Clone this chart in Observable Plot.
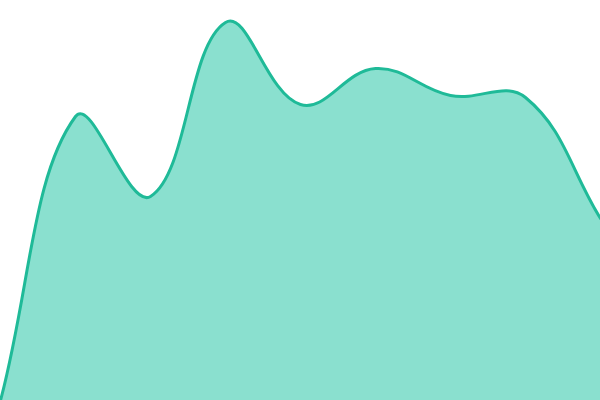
<!DOCTYPE html>
<html><head><meta charset="utf-8">
<script src="https://cdn.jsdelivr.net/npm/d3@7"></script>
<script src="https://cdn.jsdelivr.net/npm/@observablehq/plot@0.6"></script>
<style>html,body{margin:0;padding:0;background:#fff;overflow:hidden}</style>
</head><body><div id="chart"></div>
<script>
const xs = [0, 1, 2, 3, 4, 5, 6, 7, 8];
const values = [0, 71, 51, 94.5, 74, 83, 76.25, 75.75, 45.5];
const data = xs.map((x, i) => ({x, y: values[i]}));

// Distance-weighted tension spline (tension 0.4)
function tensionSpline(context) {
  const t = 0.4;
  return {
    _line: NaN,
    areaStart() { this._line = 0; },
    areaEnd() { this._line = NaN; },
    lineStart() { this._pts = []; },
    point(x, y) { this._pts.push([+x, +y]); },
    lineEnd() {
      const p = this._pts, n = p.length;
      if (n) {
        if (this._line) context.lineTo(p[0][0], p[0][1]); else context.moveTo(p[0][0], p[0][1]);
        const cps = p.map((cur, i) => {
          const prev = p[Math.max(i - 1, 0)], next = p[Math.min(i + 1, n - 1)];
          const d01 = Math.hypot(cur[0] - prev[0], cur[1] - prev[1]);
          const d12 = Math.hypot(next[0] - cur[0], next[1] - cur[1]);
          let s01 = d01 / (d01 + d12), s12 = d12 / (d01 + d12);
          if (!isFinite(s01)) s01 = 0;
          if (!isFinite(s12)) s12 = 0;
          const fa = t * s01, fb = t * s12;
          return {
            px: cur[0] - fa * (next[0] - prev[0]), py: cur[1] - fa * (next[1] - prev[1]),
            nx: cur[0] + fb * (next[0] - prev[0]), ny: cur[1] + fb * (next[1] - prev[1])
          };
        });
        for (let i = 1; i < n; i++) {
          const a = cps[i - 1], b = cps[i];
          context.bezierCurveTo(a.nx, a.ny, b.px, b.py, p[i][0], p[i][1]);
        }
      }
      if (this._line || (this._line !== 0 && n === 1)) context.closePath();
      this._line = 1 - this._line;
    }
  };
}

const chart = Plot.plot({
  width: 600, height: 400,
  margin: 0,
  x: {domain: [0, 8], axis: null},
  y: {domain: [0, 100], axis: null},
  marks: [
    Plot.areaY(data, {x: "x", y: "y", curve: tensionSpline, fill: "#8ae0cf"}),
    Plot.lineY(data, {x: "x", y: "y", curve: tensionSpline, stroke: "#1fba98", strokeWidth: 3})
  ]
});
document.getElementById("chart").appendChild(chart);
</script></body></html>
